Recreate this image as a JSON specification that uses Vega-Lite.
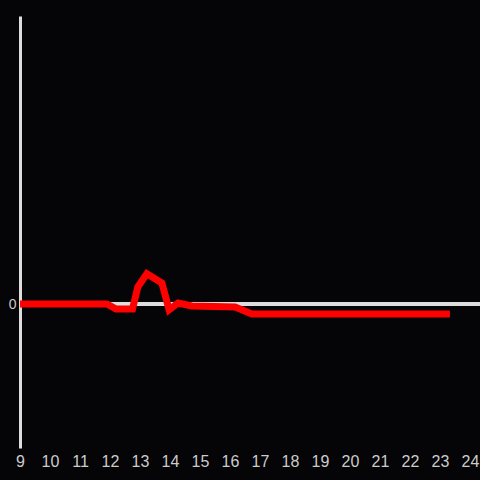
{
  "$schema": "https://vega.github.io/schema/vega-lite/v6.json",
  "width": 460,
  "height": 432,
  "padding": {"left": 20, "top": 16, "right": 0, "bottom": 32},
  "autosize": {"type": "none"},
  "background": "#050407",
  "config": {"view": {"stroke": null}, "font": "Liberation Sans"},
  "data": {"values": [
    {"h": 9, "v": 0},
    {"h": 11.9, "v": 0},
    {"h": 12.2, "v": -0.035},
    {"h": 12.75, "v": -0.035},
    {"h": 12.93, "v": 0.12},
    {"h": 13.23, "v": 0.21},
    {"h": 13.73, "v": 0.146},
    {"h": 13.97, "v": -0.04},
    {"h": 14.27, "v": 0.007},
    {"h": 14.73, "v": -0.014},
    {"h": 16.17, "v": -0.021},
    {"h": 16.73, "v": -0.069},
    {"h": 23.33, "v": -0.069}
  ]},
  "layer": [
    {
      "mark": {"type": "rule", "color": "#dddddd", "strokeWidth": 3},
      "encoding": {"y": {"datum": 0, "type": "quantitative"}}
    },
    {
      "mark": {"type": "line", "color": "#ff0000", "strokeWidth": 7, "strokeCap": "butt"},
      "encoding": {
        "x": {"field": "h", "type": "quantitative",
          "scale": {"domain": [9, 24.3333], "nice": false, "zero": false},
          "axis": {"values": [9,10,11,12,13,14,15,16,17,18,19,20,21,22,23,24], "format": "d", "domain": false, "ticks": false, "grid": false,
            "labelColor": "#cccccc", "labelFontSize": 16, "labelPadding": 5, "labelOverlap": false, "labelFlush": false, "labelBound": false, "title": null}},
        "y": {"field": "v", "type": "quantitative",
          "scale": {"domain": [-1, 2], "nice": false, "zero": false},
          "axis": {"values": [0], "format": "d", "domain": true, "domainColor": "#dddddd", "domainWidth": 3, "ticks": false, "grid": false,
            "labelColor": "#cccccc", "labelFontSize": 14, "labelPadding": 4, "title": null}}
      }
    }
  ]
}
